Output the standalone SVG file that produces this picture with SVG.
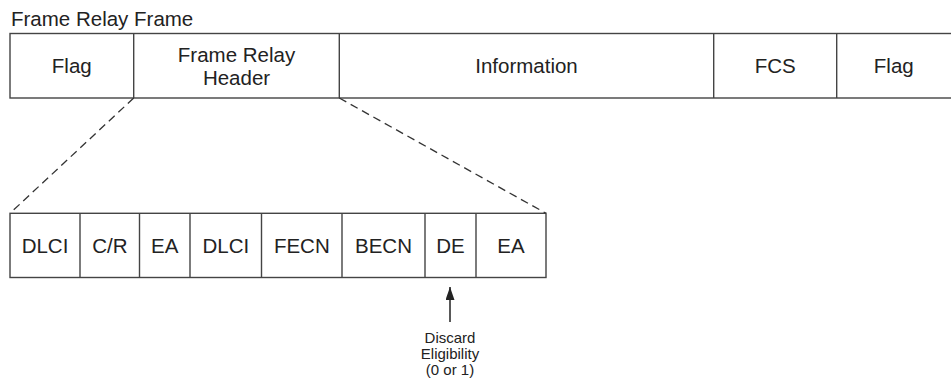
<svg xmlns="http://www.w3.org/2000/svg" width="951" height="382" viewBox="0 0 951 382">
<style>
text{font-family:"Liberation Sans",Arial,sans-serif;fill:#222}
.lbl{font-size:20.5px;text-anchor:middle}
.ttl{font-size:20.5px}
.note{font-size:15px;text-anchor:middle}
.box{fill:#fff;stroke:#444;stroke-width:1.4}
.div{stroke:#444;stroke-width:1.4}
.dash{stroke:#333;stroke-width:1.3;stroke-dasharray:8 5;fill:none}
</style>
<defs>
<marker id="ah" markerWidth="14" markerHeight="10" refX="13" refY="4.5" orient="auto" markerUnits="userSpaceOnUse" viewBox="0 0 14 10">
<path d="M0,0 L13,4.5 L0,9 Z" fill="#222"/>
</marker>
</defs>
<text class="ttl" x="11" y="26">Frame Relay Frame</text>
<g id="frame">
<rect class="box" x="10" y="33.5" width="960" height="64.5"/>
<line class="div" x1="133.7" y1="33.5" x2="133.7" y2="98"/>
<line class="div" x1="339.3" y1="33.5" x2="339.3" y2="98"/>
<line class="div" x1="713.7" y1="33.5" x2="713.7" y2="98"/>
<line class="div" x1="836.7" y1="33.5" x2="836.7" y2="98"/>
</g>
<g id="flag1"><text class="lbl" x="71.8" y="73">Flag</text></g>
<g id="header"><text class="lbl" x="236.5" y="61.7">Frame Relay</text><text class="lbl" x="236.5" y="85">Header</text></g>
<g id="information"><text class="lbl" x="526.5" y="73">Information</text></g>
<g id="fcs"><text class="lbl" x="775.2" y="73">FCS</text></g>
<g id="flag2"><text class="lbl" x="893.8" y="73">Flag</text></g>
<g id="headerfields">
<rect class="box" x="10" y="213.3" width="536" height="64.2"/>
<line class="div" x1="80" y1="213.3" x2="80" y2="277.5"/>
<line class="div" x1="139.5" y1="213.3" x2="139.5" y2="277.5"/>
<line class="div" x1="190" y1="213.3" x2="190" y2="277.5"/>
<line class="div" x1="261.5" y1="213.3" x2="261.5" y2="277.5"/>
<line class="div" x1="342" y1="213.3" x2="342" y2="277.5"/>
<line class="div" x1="425" y1="213.3" x2="425" y2="277.5"/>
<line class="div" x1="476" y1="213.3" x2="476" y2="277.5"/>
</g>
<g id="dlci1"><text class="lbl" x="45" y="253">DLCI</text></g>
<g id="cr"><text class="lbl" x="109.8" y="253">C/R</text></g>
<g id="ea1"><text class="lbl" x="164.8" y="253">EA</text></g>
<g id="dlci2"><text class="lbl" x="225.8" y="253">DLCI</text></g>
<g id="fecn"><text class="lbl" x="301.8" y="253">FECN</text></g>
<g id="becn"><text class="lbl" x="383.5" y="253">BECN</text></g>
<g id="de"><text class="lbl" x="450.5" y="253">DE</text></g>
<g id="ea2"><text class="lbl" x="511" y="253">EA</text></g>
<g id="discard"><text class="note" x="450" y="342.5">Discard</text><text class="note" x="450" y="358.5">Eligibility</text><text class="note" x="450" y="374.5">(0 or 1)</text></g>
<g id="connectors">
<line class="dash" x1="133.7" y1="98" x2="10" y2="213.3"/>
<line class="dash" x1="339.3" y1="98" x2="546" y2="213.3"/>
<line stroke="#222" stroke-width="1.5" x1="450" y1="322" x2="450" y2="287" marker-end="url(#ah)"/>
</g>
</svg>
